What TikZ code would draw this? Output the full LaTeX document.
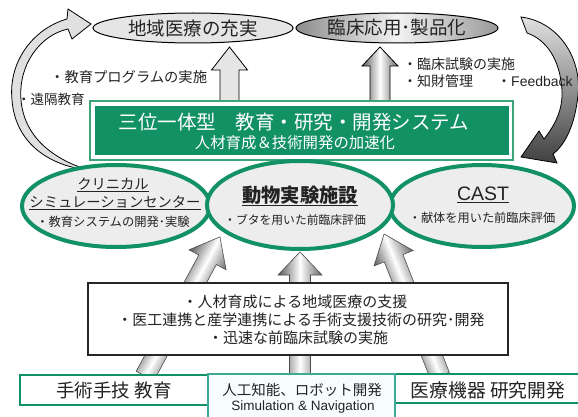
\documentclass[tikz,border=0pt]{standalone}
\usepackage{fontspec}
\setmainfont{Noto Sans CJK JP}
\newfontfamily\latinfont{Liberation Sans}
\usetikzlibrary{calc,shapes.geometric}
\definecolor{mygreen}{RGB}{18,145,100}
\definecolor{lightgreen}{RGB}{60,165,120}
\definecolor{tealline}{RGB}{60,170,150}
\definecolor{txt}{RGB}{35,35,35}
\newcommand\fs[1]{\fontsize{#1}{#1}\selectfont}
% block arrow: style, start, tip, half shaft, half head, head length
\newcommand\blockarrow[6]{%
  \coordinate (baH) at ($(#3)!#6!(#2)$);
  \path[#1] ($(#2)!#4!90:(#3)$) -- ($(baH)!#4!90:(#3)$) -- ($(baH)!#5!90:(#3)$) -- (#3)
    -- ($(baH)!#5!-90:(#3)$) -- ($(baH)!#4!-90:(#3)$) -- ($(#2)!#4!-90:(#3)$) -- cycle;
}
\begin{document}
\begin{tikzpicture}[x=1pt,y=-1pt,
  lbl/.style={text=txt,inner sep=0pt},
  topell/.style={ellipse,draw=black,line width=1pt,inner sep=0pt},
  grell/.style={ellipse,draw=mygreen,line width=4pt,fill=black!7,inner sep=0pt},
  upshade/.style={left color=black!65,right color=black!60,middle color=white,draw=black!70,line width=0.6pt},
  greenbox/.style={draw=mygreen,line width=2.5pt,fill=white,inner sep=0pt},
]
\path[use as bounding box,fill=white] (0,0) rectangle (578,417);

% curved arrows
\path[draw=black,line width=0.8pt,fill=black!12]
  (67,19) .. controls (35,28) and (8,60) .. (12,100)
  .. controls (15,140) and (45,165) .. (88,170)
  .. controls (50,158) and (24,135) .. (21,100)
  .. controls (18,65) and (40,35) .. (68,29)
  -- (72,39) -- (91,24) -- (68,9) -- cycle;
\path[draw=black,line width=0.8pt,top color=black!12,bottom color=black!75]
  (521,17) .. controls (560,22) and (582,60) .. (578,95)
  .. controls (575,125) and (565,145) .. (553,154)
  -- (557,163) -- (521,157) -- (539,131) -- (544,139)
  .. controls (555,125) and (563,110) .. (562,90)
  .. controls (560,60) and (547,40) .. (527,33) -- cycle;

% top ellipses
\node[topell,fill=black!10,minimum width=200pt,minimum height=30pt] (e1) at (193,28) {};
\node[topell,left color=black!45,right color=black!40,middle color=black!5,minimum width=202pt,minimum height=30pt] (e2) at (397,28) {};
\node[lbl,font=\fs{18.5}] at (e1) {地域医療の充実};
\node[lbl,font=\fs{18.5}] at (e2) {臨床応用･製品化};

% up arrows to top
\coordinate (u1s) at (229.5,101);
\coordinate (u1t) at (229.5,47);
\coordinate (u2s) at (380,101);
\coordinate (u2t) at (380,47);
\blockarrow{draw=black,line width=0.8pt,fill=black!10}{u1s}{u1t}{9.5pt}{18pt}{23pt}
\blockarrow{upshade,draw=black,line width=0.8pt}{u2s}{u2t}{10pt}{18pt}{19pt}

% side texts
\node[lbl,font=\fs{14.3},anchor=west] at (50,77) {・教育プログラムの実施};
\node[lbl,font=\fs{13.5},anchor=west] at (17,99) {・遠隔教育};
\node[lbl,font=\fs{14},anchor=west] at (403,64) {・臨床試験の実施};
\node[lbl,font=\fs{14},anchor=west] at (403,81) {・知財管理};
\node[lbl,font=\fs{14},anchor=west] at (497,81) {・\latinfont Feedback};

% main system box
\node[draw=lightgreen,line width=1.8pt,fill=white,minimum width=423pt,minimum height=59pt,inner sep=0pt] (frame) at (301.5,130.5) {};
\node[fill=mygreen,minimum width=414pt,minimum height=49pt,inner sep=0pt] (sys) at (302,130.5) {};
\node[inner sep=0pt,text=white,font=\fs{19.5}] at (294,122) {三位一体型　教育・研究・開発システム};
\node[inner sep=0pt,text=white,font=\fs{15.4}] at (295,143) {人材育成＆技術開発の加速化};

% bottom up arrows (drawn upright, then tilted)
\coordinate (b1s) at (145,376);
\coordinate (b1t) at (145,218);
\coordinate (b2s) at (300,376);
\coordinate (b2t) at (300,252);
\coordinate (b3s) at (440,376);
\coordinate (b3t) at (440,223.4);
\begin{scope}[transform canvas={rotate around={-28.3:(b1s)}}]
\blockarrow{upshade}{b1s}{b1t}{10pt}{21pt}{26pt}
\end{scope}
\blockarrow{upshade}{b2s}{b2t}{10.5pt}{22pt}{23pt}
\begin{scope}[transform canvas={rotate around={21.5:(b3s)}}]
\blockarrow{upshade}{b3s}{b3t}{10pt}{21pt}{26pt}
\end{scope}

% green ellipses
\node[grell,minimum width=188pt,minimum height=82pt] (csc) at (116,206) {};
\node[grell,minimum width=184pt,minimum height=82pt] (cast) at (482,206) {};
\node[grell,minimum width=186pt,minimum height=88pt] (anim) at (300,205) {};

\node[lbl,font=\fs{14.3}] at (113,185) {\underline{クリニカル}};
\node[lbl,font=\fs{14.3}] at (115,203) {\underline{シミュレーションセンター}};
\node[lbl,font=\fs{12.3}] at (113,222) {・教育システムの開発･実験};
\node[lbl,font=\fs{19.3}\bfseries] at (300,196) {\underline{動物実験施設}};
\node[lbl,font=\fs{11.8}] at (295,220) {・ブタを用いた前臨床評価};
\node[lbl,font=\latinfont\fs{19.5}] at (483,195) {\underline{CAST}};
\node[lbl,font=\fs{12.2}] at (482,218) {・献体を用いた前臨床評価};

% middle text box
\node[draw=black!85,line width=2pt,fill=white,minimum width=420pt,minimum height=72pt,inner sep=0pt] (mid) at (298,319) {};
\node[lbl,font=\fs{15}] at (295,302) {・人材育成による地域医療の支援};
\node[lbl,font=\fs{15}] at (301,320) {・医工連携と産学連携による手術支援技術の研究･開発};
\node[lbl,font=\fs{15}] at (298,338) {・迅速な前臨床試験の実施};

% bottom boxes
\node[greenbox,minimum width=188pt,minimum height=30pt] (skill) at (114,390) {};
\node[greenbox,minimum width=188pt,minimum height=29pt] (dev) at (489,388.5) {};
\node[draw=tealline,line width=1.2pt,fill=cyan!3,minimum width=187pt,minimum height=46pt,inner sep=0pt] (ai) at (301.5,397) {};
\node[lbl,font=\fs{18.5}] at (114,390) {手術手技 教育};
\node[lbl,font=\fs{18.8}] at (488,390) {医療機器 研究開発};
\node[lbl,font=\fs{14.5}] at (302,390) {人工知能、ロボット開発};
\node[lbl,font=\latinfont\fs{13.5}] at (303,407) {Simulation \& Navigation};
\end{tikzpicture}
\end{document}
